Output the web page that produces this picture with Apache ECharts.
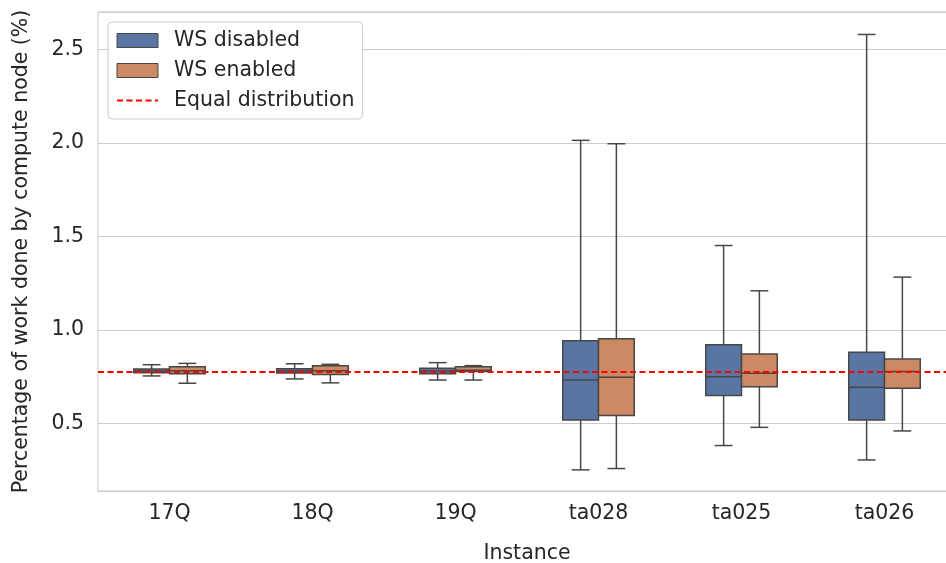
<!DOCTYPE html>
<html>
<head>
<meta charset="utf-8">
<script src="https://cdn.jsdelivr.net/npm/echarts@6/dist/echarts.min.js"></script>
<style>
  html, body { margin: 0; padding: 0; background: #fff; }
  #chart { width: 946px; height: 563px; }
</style>
</head>
<body>
<div id="chart"></div>
<script>
const instances = ["17Q", "18Q", "19Q", "ta028", "ta025", "ta026"];
// [low whisker, q1, median, q3, high whisker]
const wsDisabled = [
  [0.755, 0.772, 0.781, 0.792, 0.815],
  [0.739, 0.771, 0.782, 0.794, 0.820],
  [0.733, 0.767, 0.781, 0.796, 0.826],
  [0.253, 0.520, 0.733, 0.943, 2.014],
  [0.383, 0.650, 0.751, 0.922, 1.452],
  [0.306, 0.520, 0.694, 0.881, 2.580]
];
const wsEnabled = [
  [0.716, 0.766, 0.783, 0.804, 0.822],
  [0.718, 0.762, 0.783, 0.810, 0.817],
  [0.733, 0.778, 0.785, 0.804, 0.810],
  [0.260, 0.543, 0.748, 0.954, 1.996],
  [0.480, 0.697, 0.769, 0.872, 1.210],
  [0.461, 0.689, 0.778, 0.845, 1.283]
];
const equalShare = 100 / 128;

const edge = "#474747";
const font = "DejaVu Sans";
const txt = "#262626";
const fs = 20.5;

function boxRenderer(side) {
  return function (params, api) {
    const cat = api.value(0);
    const bw = api.size([1, 0])[0] * 0.25;
    const x = api.coord([cat, 0])[0] + side * bw / 2;
    const y = i => api.coord([cat, api.value(i)])[1];
    const lo = y(1), q1 = y(2), med = y(3), q3 = y(4), hi = y(5);
    const ls = { stroke: edge, lineWidth: 1.5 };
    return {
      type: "group",
      children: [
        { type: "line", shape: { x1: x, y1: lo, x2: x, y2: q1 }, style: ls },
        { type: "line", shape: { x1: x, y1: q3, x2: x, y2: hi }, style: ls },
        { type: "line", shape: { x1: x - bw / 4, y1: lo, x2: x + bw / 4, y2: lo }, style: ls },
        { type: "line", shape: { x1: x - bw / 4, y1: hi, x2: x + bw / 4, y2: hi }, style: ls },
        { type: "rect", shape: { x: x - bw / 2, y: q3, width: bw, height: q1 - q3 },
          style: { fill: api.visual("color"), stroke: edge, lineWidth: 1.5 } },
        { type: "line", shape: { x1: x - bw / 2, y1: med, x2: x + bw / 2, y2: med }, style: ls }
      ]
    };
  };
}

const toData = arr => arr.map((d, i) => [i, ...d]);

const chart = echarts.init(document.getElementById("chart"));
chart.setOption({
  animation: false,
  backgroundColor: "#fff",
  textStyle: { fontFamily: font },
  grid: {
    left: 98, right: -10, top: 12, bottom: 72, outerBoundsMode: "none",
    show: true, borderColor: "#cccccc", borderWidth: 1
  },
  legend: {
    orient: "vertical", left: 108, top: 22,
    padding: [8, 8, 8, 8], itemGap: 9,
    itemWidth: 41, itemHeight: 14,
    backgroundColor: "#fff", borderColor: "#cccccc", borderWidth: 1, borderRadius: 4,
    textStyle: { fontFamily: font, fontSize: fs, color: txt, padding: [0, 0, 0, 11] },
    data: [
      { name: "WS disabled", icon: "rect", itemStyle: { borderColor: edge, borderWidth: 1 } },
      { name: "WS enabled", icon: "rect", itemStyle: { borderColor: edge, borderWidth: 1 } },
      { name: "Equal distribution", itemStyle: { opacity: 0 } }
    ]
  },
  xAxis: {
    type: "category", data: instances,
    name: "Instance", nameLocation: "middle", nameGap: 52,
    nameTextStyle: { fontFamily: font, fontSize: fs, color: txt },
    axisLine: { lineStyle: { color: "#cccccc" } },
    axisTick: { show: false },
    axisLabel: { fontFamily: font, fontSize: fs, color: txt, margin: 12 },
    splitLine: { show: false }
  },
  yAxis: {
    type: "value", min: 0.14, max: 2.70, splitNumber: 5,
    name: "Percentage of work done by compute node (%)", nameLocation: "middle", nameGap: 66,
    nameTextStyle: { fontFamily: font, fontSize: fs, color: txt },
    axisLine: { show: false }, axisTick: { show: false },
    axisLabel: {
      fontFamily: font, fontSize: fs, color: txt, margin: 14,
      formatter: v => (Math.abs(v * 2 - Math.round(v * 2)) < 1e-6 ? v.toFixed(1) : "")
    },
    splitLine: { lineStyle: { color: "#cccccc", width: 1 } }
  },
  series: [
    {
      name: "WS disabled", type: "custom", renderItem: boxRenderer(-1),
      itemStyle: { color: "#5875a4", borderColor: edge },
      encode: { x: 0, y: [1, 2, 3, 4, 5] },
      data: toData(wsDisabled), z: 3
    },
    {
      name: "WS enabled", type: "custom", renderItem: boxRenderer(1),
      itemStyle: { color: "#cc8963", borderColor: edge },
      encode: { x: 0, y: [1, 2, 3, 4, 5] },
      data: toData(wsEnabled), z: 3
    },
    {
      name: "Equal distribution", type: "line", data: [], symbol: "none",
      itemStyle: { color: "#ff0000" },
      lineStyle: { color: "#ff0000", width: 1.8, type: [6, 3.5] },
      markLine: {
        silent: true, symbol: "none", label: { show: false }, z: 5,
        lineStyle: { color: "#ff0000", width: 1.8, type: [6, 3.5] },
        data: [{ yAxis: equalShare }]
      }
    }
  ]
});
</script>
</body>
</html>
